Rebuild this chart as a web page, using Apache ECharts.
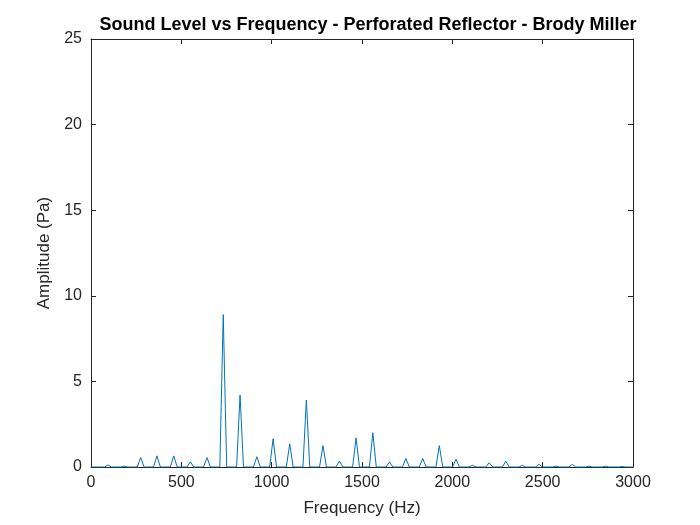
<!DOCTYPE html>
<html>
<head>
<meta charset="utf-8">
<script src="https://cdn.jsdelivr.net/npm/echarts@6/dist/echarts.min.js"></script>
<style>body{margin:0;background:#fff}#chart{width:700px;height:525px}</style>
</head>
<body>
<div id="chart"></div>
<script>
// peak frequencies (Hz) and amplitudes (Pa)
var peakFreq = [94, 185, 275, 365, 458, 550, 642, 732, 825, 918, 1008, 1100, 1192, 1284, 1375, 1467, 1560, 1652, 1743, 1836, 1928, 2020, 2112, 2204, 2296, 2388, 2480, 2572, 2664, 2756, 2848, 2940];
var peakAmp = [0.12, 0.05, 0.55, 0.65, 0.65, 0.3, 0.55, 8.9, 4.2, 0.6, 1.65, 1.35, 3.9, 1.25, 0.35, 1.7, 2.0, 0.3, 0.5, 0.5, 1.25, 0.45, 0.1, 0.25, 0.35, 0.1, 0.15, 0.05, 0.15, 0.05, 0.05, 0.03];
var halfWidth = 19;

var lineData = [[0, 0]];
for (var i = 0; i < peakFreq.length; i++) {
    lineData.push([peakFreq[i] - halfWidth, 0]);
    lineData.push([peakFreq[i], peakAmp[i]]);
    lineData.push([peakFreq[i] + halfWidth, 0]);
}
lineData.push([3000, 0]);

var font = 'Liberation Sans, Arial, sans-serif';
var axisLine = {show: true, onZero: false, lineStyle: {color: '#262626', width: 1}};
var tickIn = {show: true, inside: true, length: 5, lineStyle: {color: '#262626'}};
var plain = function (v) { return String(v); };

var chart = echarts.init(document.getElementById('chart'));
chart.setOption({
    animation: false,
    title: {
        text: 'Sound Level vs Frequency - Perforated Reflector - Brody Miller',
        left: 363, top: 11, textAlign: 'center',
        textStyle: {fontFamily: font, fontSize: 18, fontWeight: 'bold', color: '#000'}
    },
    grid: {left: 91, right: 67, top: 39, bottom: 58},
    xAxis: [
        {
            type: 'value', min: 0, max: 3000, interval: 500,
            name: 'Frequency (Hz)', nameLocation: 'middle', nameGap: 33,
            nameTextStyle: {fontFamily: font, fontSize: 17, color: '#262626'},
            axisLine: axisLine, axisTick: tickIn, splitLine: {show: false},
            axisLabel: {fontFamily: font, fontSize: 16, color: '#262626', margin: 8, formatter: plain}
        },
        {
            type: 'value', position: 'top', min: 0, max: 3000, interval: 500,
            axisLine: axisLine, axisTick: tickIn, axisLabel: {show: false}, splitLine: {show: false}
        }
    ],
    yAxis: [
        {
            type: 'value', min: 0, max: 25, interval: 5,
            name: 'Amplitude (Pa)', nameLocation: 'middle', nameGap: 34,
            nameTextStyle: {fontFamily: font, fontSize: 17, color: '#262626'},
            axisLine: axisLine, axisTick: tickIn, splitLine: {show: false},
            axisLabel: {fontFamily: font, fontSize: 16, color: '#262626', margin: 9}
        },
        {
            type: 'value', position: 'right', min: 0, max: 25, interval: 5,
            axisLine: axisLine, axisTick: tickIn, axisLabel: {show: false}, splitLine: {show: false}
        }
    ],
    series: [{
        type: 'line',
        data: lineData,
        showSymbol: false,
        lineStyle: {color: '#0072BD', width: 1}
    }]
});
</script>
</body>
</html>
